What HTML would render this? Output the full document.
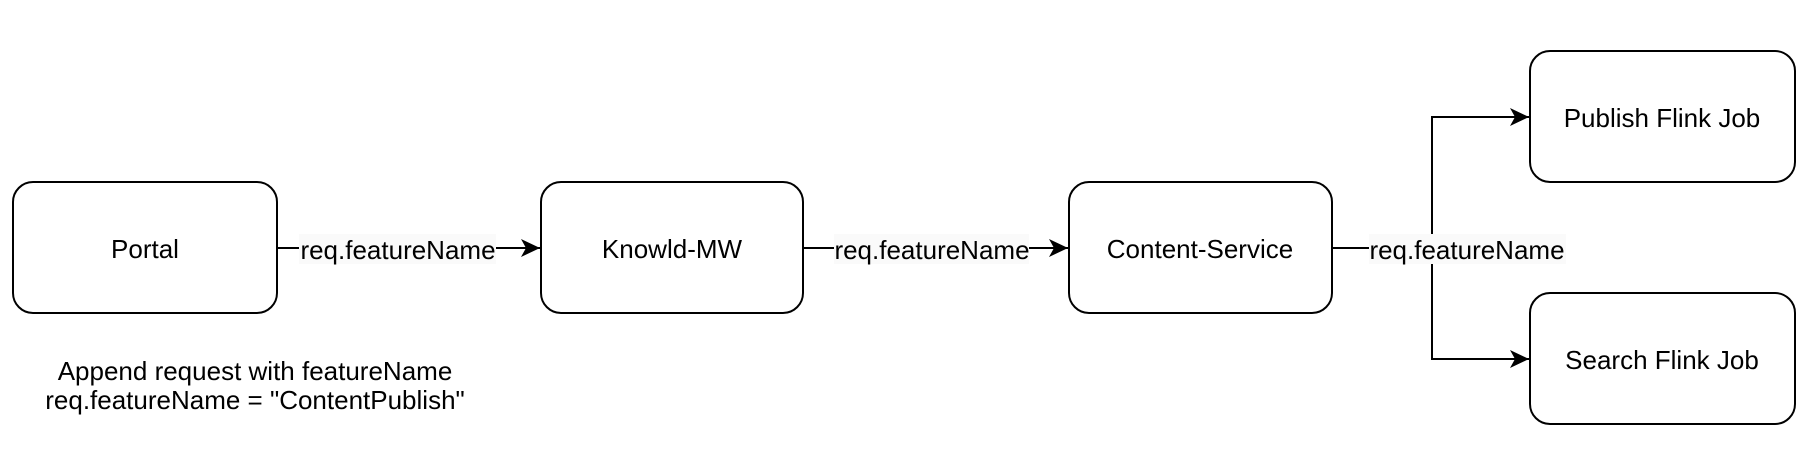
<!DOCTYPE html>
<html><head><meta charset="utf-8"><style>
html,body{margin:0;padding:0;background:#fff;}
svg{display:block;}
text{font-family:"Liberation Sans",Arial,sans-serif;font-size:26px;fill:#000;}
</style></head><body>
<svg width="1810" height="476" viewBox="0 0 1810 476" xmlns="http://www.w3.org/2000/svg">
<defs>
<marker id="a" markerWidth="20" markerHeight="18" refX="19" refY="9" orient="auto" markerUnits="userSpaceOnUse">
<path d="M0,0 L19,9 L0,18 L5,9 Z" fill="#000"/>
</marker>
</defs>
<g fill="#fff" stroke="#000" stroke-width="2">
<rect x="13" y="182" width="264" height="131" rx="20"/>
<rect x="541" y="182" width="262" height="131" rx="20"/>
<rect x="1069" y="182" width="263" height="131" rx="20"/>
<rect x="1530" y="51" width="265" height="131" rx="20"/>
<rect x="1530" y="293" width="265" height="131" rx="20"/>
</g>
<g fill="none" stroke="#000" stroke-width="2">
<path d="M277,248 H540" marker-end="url(#a)"/>
<path d="M803,248 H1068" marker-end="url(#a)"/>
<path d="M1332,248 H1432 V117 H1529" marker-end="url(#a)"/>
<path d="M1432,248 V359 H1529" marker-end="url(#a)"/>
</g>
<g fill="#fafafa">
<rect x="299" y="234" width="197" height="30"/>
<rect x="834" y="234" width="195" height="30"/>
<rect x="1369" y="234" width="197" height="30"/>
</g>
<g text-anchor="middle">
<text x="398" y="259">req.featureName</text>
<text x="932" y="259">req.featureName</text>
<text x="1467" y="259">req.featureName</text>
<text x="145" y="258">Portal</text>
<text x="672" y="258">Knowld-MW</text>
<text x="1200" y="258">Content-Service</text>
<text x="1662" y="127">Publish Flink Job</text>
<text x="1662" y="369">Search Flink Job</text>
<text x="255" y="380">Append request with featureName</text>
<text x="255" y="409">req.featureName = "ContentPublish"</text>
</g>
</svg>
</body></html>
